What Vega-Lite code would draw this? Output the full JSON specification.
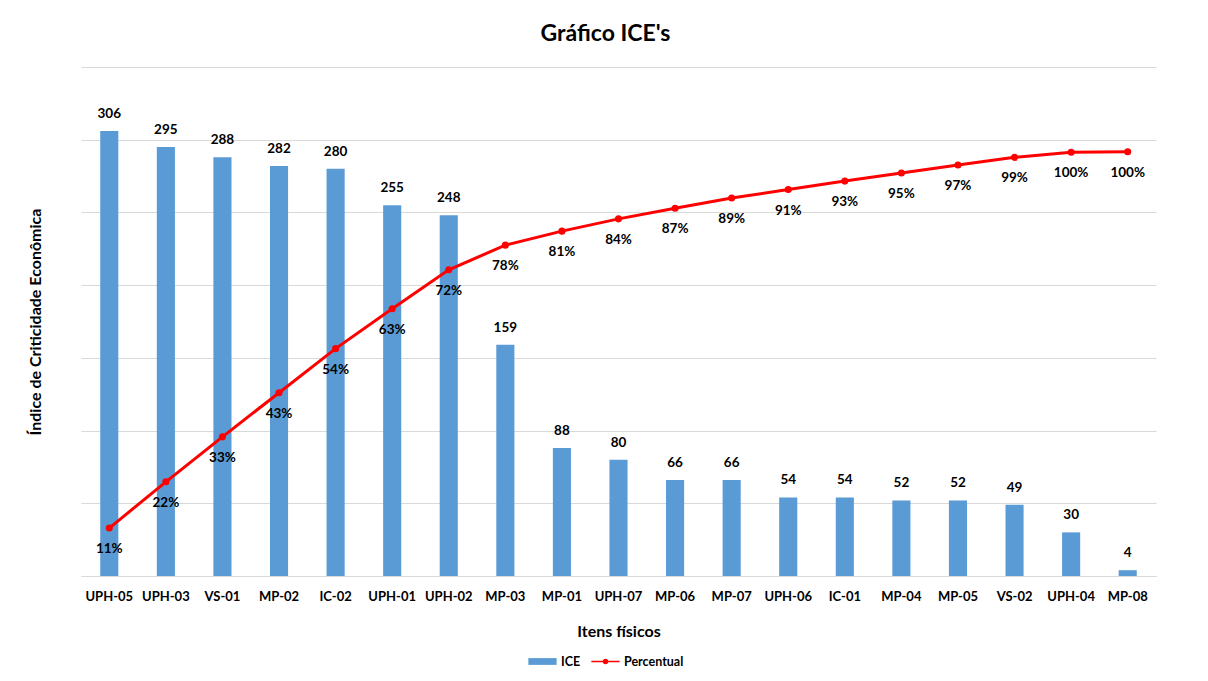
{
  "$schema": "https://vega.github.io/schema/vega-lite/v6.json",
  "width": 1075,
  "height": 509,
  "autosize": "none",
  "padding": {"left": 81, "top": 67, "right": 52, "bottom": 105},
  "background": "white",
  "title": {"text": "Gráfico ICE's", "font": "Lato", "fontSize": 23, "fontWeight": "bold", "color": "#000000", "offset": 21, "dx": -13},
  "data": {"values": [
    {"item": "UPH-05", "ice": 306, "pct": 0.113},
    {"item": "UPH-03", "ice": 295, "pct": 0.222},
    {"item": "VS-01", "ice": 288, "pct": 0.328},
    {"item": "MP-02", "ice": 282, "pct": 0.432},
    {"item": "IC-02", "ice": 280, "pct": 0.536},
    {"item": "UPH-01", "ice": 255, "pct": 0.630},
    {"item": "UPH-02", "ice": 248, "pct": 0.722},
    {"item": "MP-03", "ice": 159, "pct": 0.780},
    {"item": "MP-01", "ice": 88, "pct": 0.813},
    {"item": "UPH-07", "ice": 80, "pct": 0.842},
    {"item": "MP-06", "ice": 66, "pct": 0.867},
    {"item": "MP-07", "ice": 66, "pct": 0.891},
    {"item": "UPH-06", "ice": 54, "pct": 0.911},
    {"item": "IC-01", "ice": 54, "pct": 0.931},
    {"item": "MP-04", "ice": 52, "pct": 0.950},
    {"item": "MP-05", "ice": 52, "pct": 0.969},
    {"item": "VS-02", "ice": 49, "pct": 0.987},
    {"item": "UPH-04", "ice": 30, "pct": 0.999},
    {"item": "MP-08", "ice": 4, "pct": 1.0}
  ]},
  "encoding": {
    "x": {
      "field": "item", "type": "nominal", "sort": null,
      "scale": {"paddingInner": 0.68, "paddingOuter": 0.34},
      "axis": {"title": "Itens físicos", "labelAngle": 0, "ticks": false, "domainColor": "#d9d9d9", "labelFont": "Lato", "labelFontSize": 13, "labelFontWeight": "bold", "labelColor": "#000000", "labelPadding": 14, "titleFont": "Lato", "titleFontSize": 16, "titleFontWeight": "bold", "titleColor": "#000000", "titlePadding": 20}
    }
  },
  "layer": [
    {
      "mark": {"type": "bar", "color": "#5b9bd5"},
      "encoding": {
        "y": {"field": "ice", "type": "quantitative", "scale": {"domain": [0, 350]},
          "axis": {"title": "Índice de Criticidade Econômica", "values": [0, 50, 100, 150, 200, 250, 300, 350], "labels": false, "ticks": false, "domain": false, "grid": true, "gridColor": "#d9d9d9", "titleFont": "Lato", "titleFontSize": 16, "titleFontWeight": "bold", "titleColor": "#000000", "titlePadding": 38}},
        "color": {"datum": "ICE", "type": "nominal", "scale": {"domain": ["ICE", "Percentual"], "range": ["#5b9bd5", "#ff0000"]},
          "legend": {"title": null, "orient": "none", "legendX": 447, "legendY": 580, "direction": "horizontal", "labelFont": "Lato", "labelFontSize": 12.5, "labelFontWeight": "bold", "labelColor": "#000000", "symbolSize": 800, "columnPadding": 10, "labelOffset": 4,
            "encode": {"symbols": {"update": {
              "shape": {"signal": "datum.value === 'ICE' ? 'M-1,-0.24H1V0.24H-1Z' : 'M-1,-0.06H1V0.06H-1Z M-0.2,0A0.2,0.2 0 1 1 0.2,0A0.2,0.2 0 1 1 -0.2,0Z'"},
              "fill": {"signal": "datum.value === 'ICE' ? '#5b9bd5' : '#ff0000'"},
              "stroke": {"value": "transparent"},
              "strokeWidth": {"value": 0},
              "opacity": {"value": 1},
              "fillOpacity": {"value": 1}
            }}}}}
      }
    },
    {
      "mark": {"type": "text", "font": "Lato", "fontSize": 13.5, "fontWeight": "bold", "color": "#000000", "baseline": "middle", "dy": -17},
      "encoding": {
        "y": {"field": "ice", "type": "quantitative", "scale": {"domain": [0, 350]}, "axis": null},
        "text": {"field": "ice", "type": "quantitative"}
      }
    },
    {
      "mark": {"type": "line", "strokeWidth": 3, "point": {"size": 50, "filled": true, "color": "#ff0000"}},
      "encoding": {
        "y": {"field": "pct", "type": "quantitative", "scale": {"domain": [0, 1.2]}, "axis": null},
        "color": {"datum": "Percentual", "type": "nominal"}
      }
    },
    {
      "mark": {"type": "text", "font": "Lato", "fontSize": 13.5, "fontWeight": "bold", "color": "#000000", "baseline": "middle", "dy": 21},
      "encoding": {
        "y": {"field": "pct", "type": "quantitative", "scale": {"domain": [0, 1.2]}, "axis": null},
        "text": {"field": "pct", "type": "quantitative", "format": ".0%"}
      }
    }
  ],
  "resolve": {"scale": {"y": "independent"}},
  "config": {"view": {"stroke": null}}
}
